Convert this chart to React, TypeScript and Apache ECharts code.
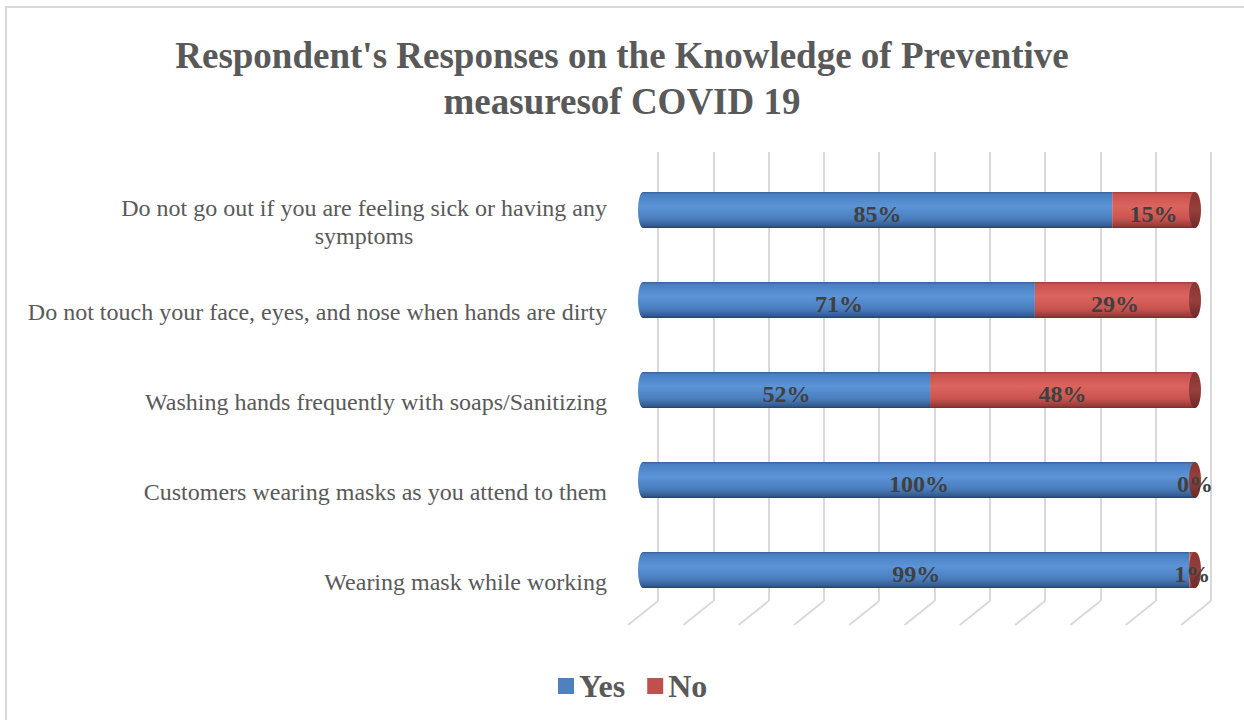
import React, { useEffect, useRef } from "react";
import * as echarts from "echarts";

const categories = [
  "Do not go out if you are feeling sick or having any symptoms",
  "Do not touch your face, eyes, and nose when hands are dirty",
  "Washing hands frequently with soaps/Sanitizing",
  "Customers wearing masks as you attend to them",
  "Wearing mask while working",
];
const yesValues = [85, 71, 52, 100, 99];
const noValues = [15, 29, 48, 0, 1];
const gridTicks = [0, 10, 20, 30, 40, 50, 60, 70, 80, 90, 100];
const titleText = "Respondent's Responses on the Knowledge of Preventive\nmeasuresof COVID 19";

const SERIF = "'Liberation Serif', 'Times New Roman', serif";

function wrapLabel(s: string, maxChars: number): string[] {
  if (s.length <= maxChars) return [s];
  const words = s.split(" ");
  const lines: string[] = [];
  let cur = "";
  for (const w of words) {
    const next = cur ? cur + " " + w : w;
    if (next.length > maxChars && cur) {
      lines.push(cur);
      cur = w;
    } else cur = next;
  }
  if (cur) lines.push(cur);
  return lines;
}

export default function App() {
  const ref = useRef<HTMLDivElement>(null);
  useEffect(() => {
    if (!ref.current) return;
    const chart = echarts.init(ref.current, null, { renderer: "svg" });
    const blueGrad = new echarts.graphic.LinearGradient(0, 0, 0, 1, [
      { offset: 0, color: "#35609a" },
      { offset: 0.07, color: "#4a80c2" },
      { offset: 0.4, color: "#5b94d7" },
      { offset: 0.75, color: "#4a7dbd" },
      { offset: 0.93, color: "#355d92" },
      { offset: 1, color: "#24426a" },
    ]);
    const redGrad = new echarts.graphic.LinearGradient(0, 0, 0, 1, [
      { offset: 0, color: "#9f3f3b" },
      { offset: 0.07, color: "#c9534f" },
      { offset: 0.4, color: "#dc645e" },
      { offset: 0.75, color: "#c9534f" },
      { offset: 0.93, color: "#9a3c39" },
      { offset: 1, color: "#7a2c2a" },
    ]);
    const capGrad = new echarts.graphic.LinearGradient(0, 0, 0, 1, [
      { offset: 0, color: "#8a3532" },
      { offset: 0.5, color: "#96403c" },
      { offset: 1, color: "#6e2826" },
    ]);
    const totals = yesValues.map((v, i) => v + noValues[i]);
    const textStyle = (text: string, x: number, y: number) => ({
      type: "text",
      x,
      y: y + 4,
      style: {
        text,
        fontFamily: SERIF,
        fontWeight: "bold",
        fontSize: 24,
        fill: "#404040",
        align: "center",
        verticalAlign: "middle",
      },
    });
    chart.setOption({
      animation: false,
      backgroundColor: "#ffffff",
      title: {
        text: titleText,
        left: "center",
        top: 27,
        textStyle: {
          fontFamily: SERIF,
          fontWeight: "bold",
          fontSize: 37,
          lineHeight: 46,
          color: "#595959",
        },
      },
      graphic: [
        {
          type: "rect",
          shape: { x: 6, y: 7, width: 1300, height: 800 },
          style: { fill: "none", stroke: "#d9d9d9", lineWidth: 2 },
          silent: true,
        },
      ],
      legend: {
        data: [
          { name: "Yes", itemStyle: { color: "#4f81bd" } },
          { name: "No", itemStyle: { color: "#c0504d" } },
        ],
        left: 553,
        top: 665,
        icon: "rect",
        itemWidth: 16,
        itemHeight: 16,
        itemGap: 22,
        textStyle: {
          fontFamily: SERIF,
          fontWeight: "bold",
          fontSize: 32,
          color: "#595959",
        },
      },
      grid: [
        { left: 658, right: 33, top: 152, bottom: 119 },
        { left: 643, right: 49, top: 165, bottom: 105 },
      ],
      xAxis: [
        {
          gridIndex: 0,
          type: "value",
          min: 0,
          max: 100,
          interval: 10,
          axisLabel: { show: false },
          axisLine: { show: false },
          axisTick: { show: false },
          splitLine: { show: true, lineStyle: { color: "#d9d9d9", width: 2 } },
        },
        {
          gridIndex: 1,
          type: "value",
          min: 0,
          max: 100,
          show: false,
        },
      ],
      yAxis: [
        { gridIndex: 0, type: "value", min: 0, max: 1, show: false },
        {
          gridIndex: 1,
          type: "category",
          inverse: true,
          data: categories,
          axisLine: { show: false },
          axisTick: { show: false },
          axisLabel: {
            margin: 36,
            padding: [24, 0, 0, 0],
            formatter: (v: string) =>
              wrapLabel(v, 59)
                .map((l) => `{c|${l}}`)
                .join("\n"),
            rich: {
              c: {
                align: "center",
                fontFamily: SERIF,
                fontSize: 24,
                lineHeight: 28,
                color: "#595959",
              },
            },
          },
        },
      ],
      series: [
        {
          type: "custom",
          name: "grid-floor",
          xAxisIndex: 0,
          yAxisIndex: 0,
          silent: true,
          data: gridTicks,
          renderItem: (params: any, api: any) => {
            const p = api.coord([api.value(0), 0]);
            return {
              type: "line",
              shape: { x1: p[0], y1: p[1], x2: p[0] - 30, y2: p[1] + 24 },
              style: { stroke: "#d9d9d9", lineWidth: 2 },
            };
          },
        },
        {
          type: "bar",
          name: "Yes",
          stack: "total",
          xAxisIndex: 1,
          yAxisIndex: 1,
          barWidth: 36,
          data: yesValues,
          itemStyle: { color: blueGrad },
          z: 3,
        },
        {
          type: "bar",
          name: "No",
          stack: "total",
          xAxisIndex: 1,
          yAxisIndex: 1,
          barWidth: 36,
          data: noValues,
          itemStyle: { color: redGrad },
          z: 3,
        },
        {
          type: "custom",
          name: "caps",
          xAxisIndex: 1,
          yAxisIndex: 1,
          silent: true,
          z: 4,
          data: totals.map((t, i) => [t, i]),
          renderItem: (params: any, api: any) => {
            const start = api.coord([0, api.value(1)]);
            const end = api.coord([api.value(0), api.value(1)]);
            return {
              type: "group",
              children: [
                {
                  type: "ellipse",
                  shape: { cx: start[0], cy: start[1], rx: 5, ry: 18 },
                  style: { fill: blueGrad },
                },
                {
                  type: "ellipse",
                  shape: { cx: end[0], cy: end[1], rx: 6, ry: 18 },
                  style: { fill: capGrad },
                },
              ],
            };
          },
        },
        {
          type: "custom",
          name: "labels",
          xAxisIndex: 1,
          yAxisIndex: 1,
          silent: true,
          z: 5,
          data: yesValues.map((y, i) => [y, noValues[i], i]),
          renderItem: (params: any, api: any) => {
            const yv = api.value(0);
            const nv = api.value(1);
            const idx = api.value(2);
            const pYes = api.coord([yv / 2, idx]);
            const pNo = api.coord([yv + nv / 2, idx]);
            return {
              type: "group",
              children: [
                textStyle(`${yv}%`, pYes[0], pYes[1]),
                textStyle(`${nv}%`, pNo[0], pNo[1]),
              ],
            };
          },
        },
      ],
    });
    return () => chart.dispose();
  }, []);
  return (
    <div
      ref={ref}
      style={{ position: "absolute", left: 0, top: 0, width: 1244, height: 720 }}
    />
  );
}
